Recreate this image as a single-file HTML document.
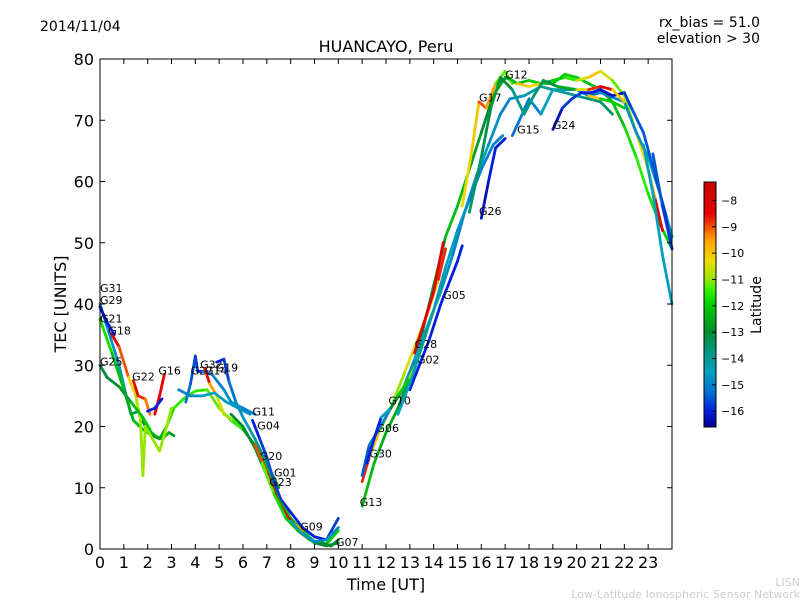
<!DOCTYPE html>
<html><head><meta charset="utf-8"><style>
body{margin:0;background:#fff;width:800px;height:600px;overflow:hidden;font-family:"Liberation Sans","DejaVu Sans",sans-serif}
svg text{font-family:"DejaVu Sans","Liberation Sans",sans-serif}
</style></head><body>
<svg id="chart" width="800" height="600" xmlns="http://www.w3.org/2000/svg">
<rect width="800" height="600" fill="#fff"/>
<text x="40" y="31" font-size="14">2014/11/04</text>
<text x="760" y="27" font-size="14" text-anchor="end">rx_bias = 51.0</text>
<text x="760" y="43" font-size="14" text-anchor="end">elevation &gt; 30</text>
<text x="386" y="52" font-size="16" text-anchor="middle">HUANCAYO, Peru</text>
<g id="plot"></g>
<g id="axes"></g>
<text x="386" y="590" font-size="16" text-anchor="middle">Time [UT]</text>
<text transform="translate(66,304) rotate(-90)" font-size="16" text-anchor="middle">TEC [UNITS]</text>
<g id="cbar"></g>
<text transform="translate(761,305) rotate(-90)" font-size="14" text-anchor="middle">Latitude</text>
<text x="800" y="586" font-size="11" fill="#ccc" text-anchor="end">LISN</text>
<text x="800" y="598" font-size="11" fill="#ccc" text-anchor="end">Low-Latitude Ionospheric Sensor Network</text>
</svg>
<script>
const xTicks=[0,1,2,3,4,5,6,7,8,9,10,11,12,13,14,15,16,17,18,19,20,21,22,23];
const yTicks=[0,10,20,30,40,50,60,70,80];
const cTicks=[-8,-9,-10,-11,-12,-13,-14,-15,-16];
const trackNames=["G31","G29","G21","G18","G25","G22","G16","G16b","G27","G32","G14","G19","G11","G04","G20","G01","G23","G09","G07","G13","G30","G06","G10","G02","G28","G05","G17","G12","G15","G24","G26","G03","G08","G31e","G29e"];
const trackLabels=[[0,42],[0,40],[0,37],[0.35,35],[0,30],[1.35,27.5],[2.45,28.5],[null,null],[3.8,28.5],[4.2,29.5],[4.4,28.5],[4.85,29],[6.4,21.8],[6.6,19.5],[6.7,14.5],[7.3,11.8],[7.1,10.3],[8.4,3],[9.9,0.5],[10.9,7],[11.3,14.9],[11.6,19.1],[12.1,23.6],[13.3,30.3],[13.2,32.8],[14.4,40.8],[15.9,73.1],[17,76.8],[17.5,67.8],[19,68.6],[15.9,54.5],[null,null],[null,null],[null,null],[null,null]];
const trackPts=[
[[0,40,-15],[0.4,35,-15],[0.8,30,-14.5],[1.1,25,-14],[1.3,22,-13.5],[1.6,22.5,-13],[1.9,20,-12.5],[2.3,18.5,-12],[2.6,18,-12],[2.9,19,-12.5],[3.1,18.5,-13]],
[[0,39.5,-16.5],[0.3,37,-16],[0.6,35,-16]],
[[0,37.5,-11.5],[0.5,32,-12],[1,26,-12.5],[1.4,21,-12.5],[1.8,19.5,-12],[2.2,18.5,-12.5],[2.5,18,-13],[2.8,20,-12],[3.1,23,-11.5],[3.5,24.5,-11.5],[4,25.8,-11.5],[4.5,26,-11.5],[5,23,-11],[5.5,21,-11],[6,19.5,-12],[6.5,17,-12.5],[7,13.5,-12.5],[7.5,8.5,-12],[8,5,-11.5],[8.5,3,-12],[9,1.2,-12],[9.5,0.8,-12],[10,3,-12]],
[[0.5,35,-9],[0.8,33,-8],[1.2,28,-10],[1.5,25,-10.5],[1.7,21,-11],[1.8,12,-11],[1.9,20,-11],[2.2,18,-11],[2.5,16,-11],[2.8,20,-11],[3,23,-11]],
[[0,30,-13],[0.3,28,-13],[0.8,26.5,-13],[1.3,24,-12.5],[1.8,21.5,-12],[2.1,19.5,-12]],
[[1.4,27.5,-8.5],[1.6,25,-8.5],[1.9,24.5,-9],[2.1,22,-9.5]],
[[2.3,22,-8],[2.5,25,-9],[2.7,28.5,-8]],
[[2.0,22.5,-16],[2.3,23,-16],[2.6,24.5,-16]],
[[3.6,24,-15],[3.8,27,-15.5],[4,31.5,-15.5],[4.1,29,-16],[4.5,29,-16]],
[[4.3,29,-15],[4.7,28.5,-15],[5.2,26,-15],[5.5,24,-14.5],[6,23,-15],[6.5,22,-15]],
[[4.4,29.5,-8],[4.6,27,-9],[4.9,25,-10],[5.2,22,-11],[5.6,21,-11],[6,20,-11.5]],
[[4.9,30.5,-16],[5.2,31,-16],[5.4,27.5,-15.5],[5.7,24,-15],[6,21.5,-14.5],[6.5,18,-14],[7,14,-13.5],[7.5,10,-13]],
[[3.3,26,-15],[3.8,25,-15],[4.3,25,-14.5],[4.8,25.5,-14.5],[5.3,24,-14.5],[5.8,23,-14.5],[6.3,22,-15]],
[[6.4,21,-16],[6.7,18,-16],[7,15,-15.5],[7.3,11,-15.5],[7.6,8,-16],[8,6,-16],[8.5,3.5,-16],[9,2,-16],[9.5,1.5,-16],[10,5,-15.5]],
[[5.5,22,-13],[6,20,-13],[6.5,16.5,-13],[7,12,-12.5],[7.5,8,-12],[8,5,-12.5],[8.5,2.5,-13],[9,1,-13],[9.5,0.5,-13],[10,1,-13]],
[[6.5,17,-9],[7,12.5,-9],[7.5,7.5,-8],[8,4.5,-9],[8.5,3,-10]],
[[6.8,14,-11],[7.3,9,-11.5],[7.8,5,-12],[8.3,3,-12],[8.8,1.5,-13]],
[[8,4.5,-14],[8.5,2.5,-14.5],[9,1.2,-15],[9.5,1.5,-15],[10,3.5,-14.5]],
[[9.3,1,-13],[9.7,0.5,-13],[10,1.5,-13]],
[[11,7,-12],[11.5,14,-12.5],[12,19,-12.5],[12.5,23,-12.5],[13,28,-13],[13.5,35,-12.5],[14,43,-13],[14.5,51,-12.5],[15,56,-12],[15.5,62,-12.5],[16,68,-13],[16.5,74,-13],[17,77,-12],[17.5,76,-12.5],[18,76.5,-12],[18.5,76,-12],[19,76,-12],[19.5,77.5,-12],[20,77,-12],[20.5,76,-12],[21,75,-12.5],[21.5,73,-12.5],[22,69,-12],[22.5,64,-11.5],[23,58,-11.5],[23.5,53,-12],[24,49,-12]],
[[11,11,-8],[11.3,15,-9.5],[11.7,19,-10.5],[12.2,23,-11],[12.8,29,-11],[13.2,33,-10],[13.7,38,-10],[14.2,44,-9.5],[14.5,49,-8]],
[[11,12,-16],[11.3,17,-15],[11.7,19.5,-15],[12.2,23,-15],[12.7,26,-15],[13.2,31,-14.5],[13.8,37,-14.5],[14.3,42,-14.5],[14.8,48,-15],[15.3,55,-15],[15.8,61,-14.5],[16.3,66,-14.5],[16.8,71,-15],[17.2,73.5,-15],[17.8,74,-14.5],[18.5,75.5,-14],[19,75,-14],[19.5,74.5,-14],[20,74,-14],[20.5,73.5,-13.5],[21,73,-13.5],[21.5,71,-13.5]],
[[11.2,14,-16],[11.5,18,-16],[11.8,21.5,-16],[12.2,23,-13],[12.5,25,-13],[13,28,-11],[13.3,30.5,-11],[13.5,33,-11]],
[[13,26,-16],[13.3,29,-16],[13.8,34,-16],[14.3,40,-16],[14.7,44,-16],[15,47,-16],[15.2,49.5,-16]],
[[13.2,32,-8],[13.6,37,-8],[14,42,-8.5],[14.4,50,-8]],
[[12.5,22,-14.5],[13,27,-14.5],[13.5,33,-14],[14,39,-14],[14.5,46,-14.5],[15,52,-14.5],[15.5,57,-15],[16,62,-15],[16.5,66,-15],[16.9,67.5,-15]],
[[15.2,56,-10.5],[15.6,65,-10],[15.9,73,-10],[16.2,72,-8],[16.6,76,-11],[17,78,-11.5],[17.3,76,-11]],
[[16.7,76,-14],[17.1,77,-12.5],[17.5,76,-12],[18,75.5,-8],[18.5,76,-12.5],[19,76.5,-12],[19.5,77,-12],[20,76.5,-11],[20.5,77,-10],[21,78,-10],[21.5,76.5,-11],[22,74,-11.5],[22.5,68,-10.5],[23,62,-10],[23.3,57,-9],[23.6,52,-8]],
[[17.3,67.5,-15.5],[17.6,70,-15],[18,73.5,-15],[18.5,71,-15],[19,75,-14],[19.5,75,-14.5],[20,75,-15],[20.5,74,-15],[21,74.5,-15.5],[22,73,-14.5],[22.5,68,-15],[23,64,-14.5],[23.5,58,-14.5],[24,51,-14]],
[[19,68.5,-16.5],[19.4,72,-16],[19.8,73.5,-15.5],[20.2,74.5,-16],[20.6,74.5,-16],[21,75,-16],[21.5,74,-16.5],[22,74.5,-16],[22.3,72,-15.5],[22.8,68,-15.5],[23.3,61,-15.5],[23.7,55,-16],[24,49,-16]],
[[16,54,-16.5],[16.3,60,-16],[16.6,65.5,-16],[17,67,-16]],
[[15.5,55,-13.5],[16,64,-13.5],[16.4,72,-13],[16.8,77,-12.5],[17.3,75,-13.5],[17.8,71,-14],[18.2,74,-13.5],[18.6,76.5,-13.5],[19.2,75.5,-13],[20,75,-12],[20.5,75,-9],[21,75.5,-8.5],[21.5,75,-8],[22,73,-12]],
[[20.5,74,-8],[21,73.5,-12],[21.5,73,-12],[22,72,-12]],
[[23.2,64.5,-15.5],[23.6,56,-15.5],[24,49,-16]],
[[22.8,66,-14.5],[23.2,58,-14.5],[23.6,48,-14.5],[24,40,-14.5]]
];
const X0=100,X1=672,Y0=59,Y1=549,XMAX=24,YMAX=80,CMIN=-16.6,CMAX=-7.3;
const sx=t=>X0+(X1-X0)*t/XMAX, sy=v=>Y1-(Y1-Y0)*v/YMAX;
const cmapStops=[[-16.6,0,0,140],[-16,0,30,220],[-15.3,0,110,210],[-14.5,0,160,190],[-13.6,0,150,120],[-13,0,140,50],[-12,0,205,0],[-11.4,50,240,0],[-11,150,230,0],[-10.3,235,220,0],[-9.5,255,160,0],[-9,240,80,0],[-8.5,230,0,0],[-7.3,200,0,0]];
function col(l){
  if(l<=cmapStops[0][0])return `rgb(${cmapStops[0].slice(1).join(',')})`;
  for(let i=0;i<cmapStops.length-1;i++){const a=cmapStops[i],b=cmapStops[i+1];if(l<=b[0]){const f=(l-a[0])/(b[0]-a[0]);return `rgb(${[1,2,3].map(k=>Math.round(a[k]+f*(b[k]-a[k]))).join(',')})`;}}
  return `rgb(${cmapStops[cmapStops.length-1].slice(1).join(',')})`;
}
const NS='http://www.w3.org/2000/svg';
function mk(tag,attrs,parent){const e=document.createElementNS(NS,tag);for(const k in attrs)e.setAttribute(k,attrs[k]);parent.appendChild(e);return e;}
const plot=document.getElementById('plot'),axes=document.getElementById('axes'),cbar=document.getElementById('cbar');
trackPts.forEach((pts,i)=>{
  const g=mk('g',{},plot);
  
  
  for(let j=0;j<pts.length-1;j++){
    const a=pts[j],b=pts[j+1];
    const s=mk('line',{x1:sx(a[0]),y1:sy(a[1]),x2:sx(b[0]),y2:sy(b[1]),stroke:col((a[2]+b[2])/2),'stroke-width':2.8,'stroke-linecap':'round'},g);
    
    
  }
  const lp=trackLabels[i];
  if(lp[0]!==null){
    const t=mk('text',{x:sx(lp[0]),y:sy(lp[1]),'font-size':11},plot);
    t.textContent=trackNames[i];
    
    
  }
});
const fr=mk('rect',{x:X0,y:Y0,width:X1-X0,height:Y1-Y0,fill:'none',stroke:'#000','stroke-width':1},axes);


xTicks.forEach(t=>{
  const x=sx(t);
  mk('line',{x1:x,y1:Y1,x2:x,y2:Y1-5,stroke:'#000'},axes);
  mk('line',{x1:x,y1:Y0,x2:x,y2:Y0+5,stroke:'#000'},axes);
  const l=mk('text',{x:x,y:Y1+19,'font-size':16,'text-anchor':'middle'},axes);
  l.textContent=t;
  
  
});
yTicks.forEach(v=>{
  const y=sy(v);
  mk('line',{x1:X0,y1:y,x2:X0+5,y2:y,stroke:'#000'},axes);
  mk('line',{x1:X1,y1:y,x2:X1-5,y2:y,stroke:'#000'},axes);
  const l=mk('text',{x:X0-6,y:y+6,'font-size':16,'text-anchor':'end'},axes);
  l.textContent=v;
  
  
});
const CB0=182,CB1=427,CX=704,CW=12;
const cy=l=>CB1-(CB1-CB0)*(l-CMIN)/(CMAX-CMIN);
for(let y=CB0;y<CB1;y++){mk('rect',{x:CX,y:y,width:CW,height:1.2,fill:col(CMIN+(CMAX-CMIN)*(CB1-y-0.5)/(CB1-CB0))},cbar);}
mk('rect',{x:CX,y:CB0,width:CW,height:CB1-CB0,fill:'none',stroke:'#000'},cbar);
cTicks.forEach(c=>{
  const y=cy(c);
  mk('line',{x1:CX+CW-4,y1:y,x2:CX+CW,y2:y,stroke:'#000'},cbar);
  const l=mk('text',{x:CX+CW+5,y:y+4,'font-size':11},cbar);
  l.textContent='\u2212'+Math.abs(c);
  
  
});
</script>
</body></html>
